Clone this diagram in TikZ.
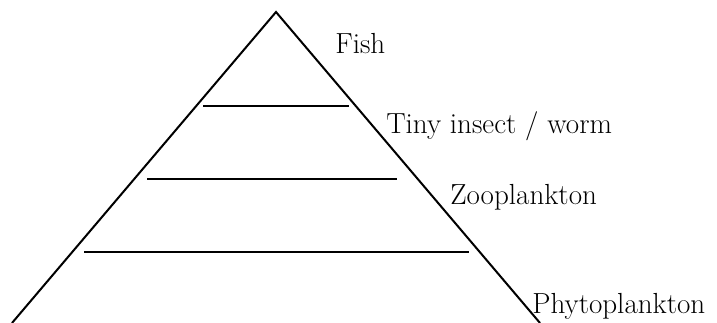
\documentclass[tikz,border=0pt]{standalone}
\begin{document}
\begin{tikzpicture}[x=0.75pt,y=-0.75pt,
  edge/.style={line width=1.5pt, line join=miter},
  level/.style={line width=1.5pt},
  lbl/.style={anchor=base west, inner sep=0pt, font=\fontsize{21.8}{26}\selectfont}]
\useasboundingbox (0,0) rectangle (717,322);
\coordinate (apex) at (276,12);
\coordinate (bl) at (12,323);
\coordinate (br) at (540,323);
\draw[edge] (bl) -- (apex) -- (br);
\coordinate (l1a) at (203,106); \coordinate (l1b) at (349,106);
\coordinate (l2a) at (147,179); \coordinate (l2b) at (397,179);
\coordinate (l3a) at (84,252);  \coordinate (l3b) at (469,252);
\draw[level] (l1a) -- (l1b);
\draw[level] (l2a) -- (l2b);
\draw[level] (l3a) -- (l3b);
\node[lbl] (fish) at (335,53) {Fish};
\node[lbl] (insect) at (386,133) {Tiny insect / worm};
\node[lbl] (zoo) at (450,204) {Zooplankton};
\node[lbl] (phyto) at (532,313) {Phytoplankton};
\end{tikzpicture}
\end{document}
